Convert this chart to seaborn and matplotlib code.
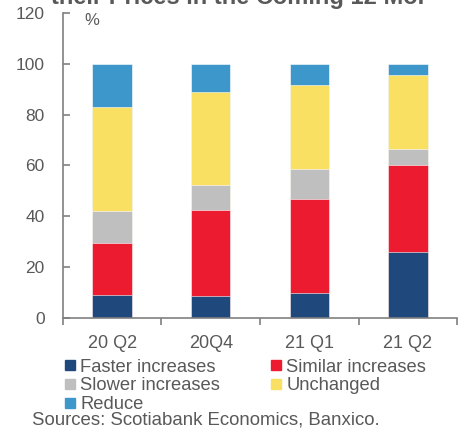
import matplotlib
matplotlib.use("Agg")
import matplotlib.pyplot as plt
from matplotlib.lines import Line2D
import numpy as np
import pandas as pd
import seaborn as sns

quarters = ["20 Q2", "20Q4", "21 Q1", "21 Q2"]
series_names = ["Faster increases", "Similar increases", "Slower increases",
                "Unchanged", "Reduce"]
faster = [8.9, 8.8, 9.8, 26.0]
similar = [20.6, 33.7, 37.0, 34.0]
slower = [12.4, 9.7, 11.7, 6.4]
unchanged = [41.1, 36.7, 33.0, 29.3]
reduce_ = [17.0, 11.1, 8.5, 4.3]
colors = ["#1F497D", "#ED1B2F", "#BFBFBF", "#F9E063", "#3E97CB"]

title = "their Prices in the Coming 12 Mo."
source = "Sources: Scotiabank Economics, Banxico."

TEXT = "#595959"
SPINE = "#808080"

sns.set_theme(style="white")
plt.rcParams["font.family"] = ["Liberation Sans", "DejaVu Sans"]

df = pd.DataFrame({"quarter": quarters, "Faster increases": faster,
                   "Similar increases": similar, "Slower increases": slower,
                   "Unchanged": unchanged, "Reduce": reduce_})
cum = df[series_names].cumsum(axis=1)

fig = plt.figure(figsize=(4.66, 4.32), dpi=100)
ax = fig.add_axes([0.135, 0.264, 0.846, 0.706])

# stacked bars: draw cumulative totals from the top segment downward
for name, col in reversed(list(zip(series_names, colors))):
    sns.barplot(x=df["quarter"], y=cum[name], color=col, width=0.4,
                saturation=1, edgecolor="white", linewidth=0.4, ax=ax)

ax.set_ylim(0, 120)
ax.set_xlim(-0.5, 3.5)
ax.set_yticks(range(0, 121, 20))
ax.set_xlabel("")
ax.set_ylabel("")

# category labels centred, tick marks at category boundaries
ax.set_xticks(np.arange(-0.5, 4.0, 1.0))
ax.set_xticklabels([])
ax.set_xticks(range(len(quarters)), minor=True)
ax.set_xticklabels(quarters, minor=True)
ax.tick_params(axis="x", which="major", direction="out", length=5,
               width=1.2, color=SPINE, bottom=True)
ax.tick_params(axis="x", which="minor", length=0, pad=12.5,
               labelsize=13, labelcolor=TEXT)
ax.tick_params(axis="y", direction="in", length=5, width=1.2, color=SPINE,
               left=True, pad=13, labelsize=12.5, labelcolor=TEXT)

for s in ["top", "right"]:
    ax.spines[s].set_visible(False)
for s in ["left", "bottom"]:
    ax.spines[s].set_color(SPINE)
    ax.spines[s].set_linewidth(1.2)

ax.text(0.055, 117, "%", fontsize=12, color=TEXT, va="center", ha="left",
        transform=ax.get_yaxis_transform())

fig.text(0.51, 0.99, title, fontsize=17, fontweight="bold", color=TEXT,
         ha="center", va="baseline")

order = [0, 2, 4, 1, 3]
handles = [Line2D([], [], marker="s", linestyle="none", markersize=7,
                  markerfacecolor=colors[i], markeredgecolor=colors[i])
           for i in order]
labels = [series_names[i] for i in order]
fig.legend(handles, labels, ncol=2, loc="upper left",
           bbox_to_anchor=(0.139, 0.170), frameon=False, fontsize=13.2,
           handlelength=0.6, handletextpad=0.25, columnspacing=2.75,
           labelspacing=0.1, borderaxespad=0, borderpad=0,
           labelcolor=TEXT)

fig.text(0.068, 0.027, source, fontsize=13.4, color=TEXT, ha="left",
         va="center")

fig.savefig("out.png", dpi=100)
